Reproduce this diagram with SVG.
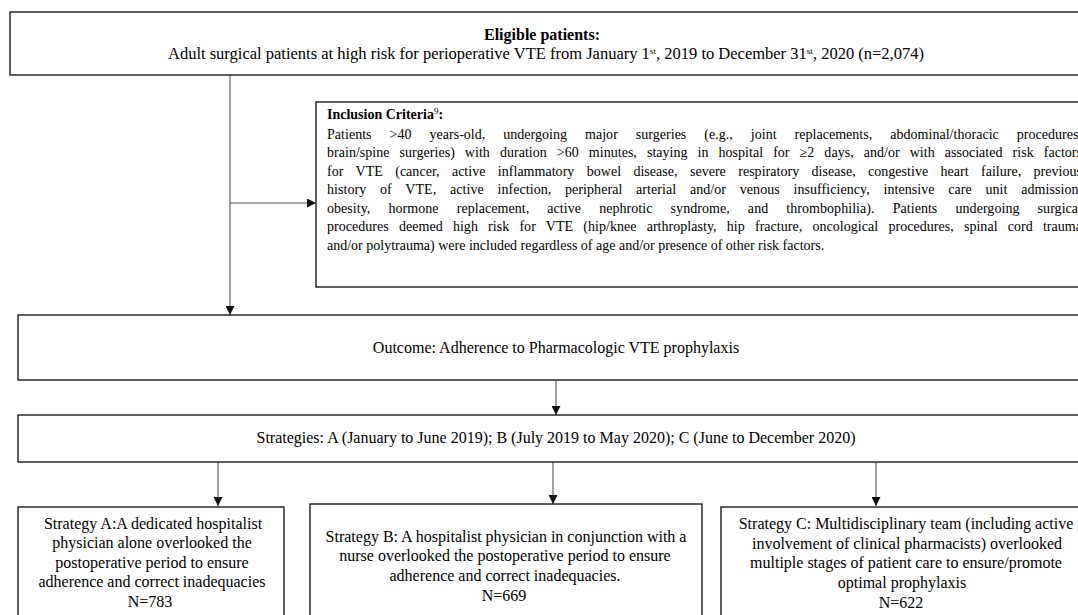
<svg xmlns="http://www.w3.org/2000/svg" width="1078" height="615" viewBox="0 0 1078 615">
<defs>
<marker id="arr" viewBox="0 0 10 10" refX="10" refY="5" markerWidth="9" markerHeight="9" markerUnits="userSpaceOnUse" orient="auto">
<path d="M0,0 L10,5 L0,10 z" fill="#111"/>
</marker>
<style>
.box{fill:#fff;stroke:#1a1a1a;stroke-width:1.4}
.t{font-family:"Liberation Serif","Times New Roman",serif;font-size:16px;fill:#000}
.s{font-size:14px}
.c{text-anchor:middle}
.b{font-weight:bold}
.con{stroke:#555;stroke-width:1.1;fill:none;marker-end:url(#arr)}
.sup{font-size:9px}
</style>
</defs>
<rect width="1078" height="615" fill="#fff"/>

<g id="connectors">
<line class="con" x1="230" y1="75" x2="230" y2="315"/>
<line class="con" x1="230" y1="203" x2="316" y2="203"/>
<line class="con" x1="556" y1="380" x2="556" y2="415"/>
<line class="con" x1="218" y1="462" x2="218" y2="506"/>
<line class="con" x1="553" y1="462" x2="553" y2="504"/>
<line class="con" x1="876" y1="462" x2="876" y2="506"/>
</g>

<g id="eligible">
<rect class="box" x="10" y="12" width="1080" height="63"/>
<text class="t b c" x="542" y="40">Eligible patients:</text>
<text class="t" x="168" y="59" textLength="756" lengthAdjust="spacingAndGlyphs">Adult surgical patients at high risk for perioperative VTE  from January 1<tspan class="sup" dy="-5">st</tspan><tspan dy="5">, 2019 to December 31</tspan><tspan class="sup" dy="-5">st</tspan><tspan dy="5">, 2020 (n=2,074)</tspan></text>
</g>

<g id="inclusion">
<rect class="box" x="316" y="102" width="780" height="185"/>
<text class="t s b" x="327" y="119">Inclusion Criteria<tspan class="sup" dy="-5" font-weight="normal">9</tspan><tspan dy="5">:</tspan></text>
<text class="t s" x="327" y="139" textLength="755" lengthAdjust="spacing" word-spacing="14.4">Patients &gt;40 years-old, undergoing major surgeries (e.g., joint replacements, abdominal/thoracic procedures,</text>
<text class="t s" x="327" y="157" textLength="755" lengthAdjust="spacing" word-spacing="6.5">brain/spine surgeries) with duration &gt;60 minutes, staying in hospital for ≥2 days, and/or with associated risk factors</text>
<text class="t s" x="327" y="176" textLength="755" lengthAdjust="spacing" word-spacing="8.8">for VTE (cancer, active inflammatory bowel disease, severe respiratory disease, congestive heart failure, previous</text>
<text class="t s" x="327" y="194" textLength="755" lengthAdjust="spacing" word-spacing="10.2">history of VTE, active infection, peripheral arterial and/or venous insufficiency, intensive care unit admission,</text>
<text class="t s" x="327" y="213" textLength="755" lengthAdjust="spacing" word-spacing="14.6">obesity, hormone replacement, active nephrotic syndrome, and thrombophilia). Patients undergoing surgical</text>
<text class="t s" x="327" y="231" textLength="755" lengthAdjust="spacing" word-spacing="6.6">procedures deemed high risk for VTE (hip/knee arthroplasty, hip fracture, oncological procedures, spinal cord trauma</text>
<text class="t s" x="327" y="250">and/or polytrauma) were included regardless of age and/or presence of other risk factors.</text>
</g>

<g id="outcome">
<rect class="box" x="18" y="315" width="1080" height="65"/>
<text class="t c" x="556" y="353">Outcome: Adherence to Pharmacologic VTE prophylaxis</text>
</g>

<g id="strategies">
<rect class="box" x="18" y="415" width="1080" height="47"/>
<text class="t c" x="556" y="443">Strategies: A (January to June 2019); B (July 2019 to May 2020); C (June to December 2020)</text>
</g>

<g id="strategyA">
<rect class="box" x="18" y="507" width="266" height="120"/>
<text class="t c" x="153" y="529">Strategy A:A dedicated hospitalist</text>
<text class="t c" x="152" y="548">physician alone overlooked the</text>
<text class="t c" x="152" y="568">postoperative period to ensure</text>
<text class="t c" x="152" y="587">adherence and correct inadequacies</text>
<text class="t c" x="150" y="607">N=783</text>
</g>

<g id="strategyB">
<rect class="box" x="310" y="504" width="392" height="120"/>
<text class="t c" x="506" y="542">Strategy B: A hospitalist physician in conjunction with a</text>
<text class="t c" x="505" y="561">nurse overlooked the postoperative period to ensure</text>
<text class="t c" x="505" y="581">adherence and correct inadequacies.</text>
<text class="t c" x="504" y="601">N=669</text>
</g>

<g id="strategyC">
<rect class="box" x="721" y="507" width="380" height="120"/>
<text class="t c" x="906" y="529">Strategy C: Multidisciplinary team (including active</text>
<text class="t c" x="907" y="549">involvement of clinical pharmacists) overlooked</text>
<text class="t c" x="906" y="568">multiple stages of patient care to ensure/promote</text>
<text class="t c" x="902" y="588">optimal prophylaxis</text>
<text class="t c" x="901" y="608">N=622</text>
</g>
</svg>
